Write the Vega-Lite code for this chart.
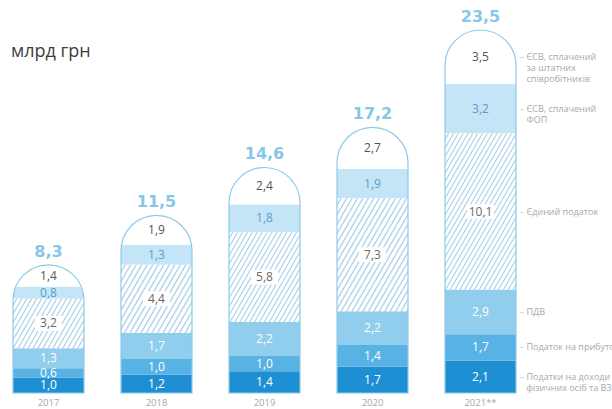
{
"$schema": "https://vega.github.io/schema/vega-lite/v6.json",
"width": 612,
"height": 363,
"autosize": {"type": "none"},
"padding": {"left": 0, "top": 30, "right": 0, "bottom": 16},
"background": "#ffffff",
"title": {"text": "млрд грн", "anchor": "start", "frame": "group", "dx": 11, "dy": 66, "offset": 0, "baseline": "alphabetic", "fontSize": 18, "fontWeight": "normal", "color": "#3d3d3d", "font": "Open Sans"},
"data": {"values": [
{"year": "2017", "ord": 1, "cat": "Податки на доходи\nфізичних осіб та ВЗ", "value": 1.0},
{"year": "2017", "ord": 2, "cat": "Податок на прибуток", "value": 0.6},
{"year": "2017", "ord": 3, "cat": "ПДВ", "value": 1.3},
{"year": "2017", "ord": 4, "cat": "Єдиний податок", "value": 3.2},
{"year": "2017", "ord": 5, "cat": "ЄСВ, сплачений\nФОП", "value": 0.8},
{"year": "2017", "ord": 6, "cat": "ЄСВ, сплачений\nза штатних\nспівробітників", "value": 1.4},
{"year": "2018", "ord": 1, "cat": "Податки на доходи\nфізичних осіб та ВЗ", "value": 1.2},
{"year": "2018", "ord": 2, "cat": "Податок на прибуток", "value": 1.0},
{"year": "2018", "ord": 3, "cat": "ПДВ", "value": 1.7},
{"year": "2018", "ord": 4, "cat": "Єдиний податок", "value": 4.4},
{"year": "2018", "ord": 5, "cat": "ЄСВ, сплачений\nФОП", "value": 1.3},
{"year": "2018", "ord": 6, "cat": "ЄСВ, сплачений\nза штатних\nспівробітників", "value": 1.9},
{"year": "2019", "ord": 1, "cat": "Податки на доходи\nфізичних осіб та ВЗ", "value": 1.4},
{"year": "2019", "ord": 2, "cat": "Податок на прибуток", "value": 1.0},
{"year": "2019", "ord": 3, "cat": "ПДВ", "value": 2.2},
{"year": "2019", "ord": 4, "cat": "Єдиний податок", "value": 5.8},
{"year": "2019", "ord": 5, "cat": "ЄСВ, сплачений\nФОП", "value": 1.8},
{"year": "2019", "ord": 6, "cat": "ЄСВ, сплачений\nза штатних\nспівробітників", "value": 2.4},
{"year": "2020", "ord": 1, "cat": "Податки на доходи\nфізичних осіб та ВЗ", "value": 1.7},
{"year": "2020", "ord": 2, "cat": "Податок на прибуток", "value": 1.4},
{"year": "2020", "ord": 3, "cat": "ПДВ", "value": 2.2},
{"year": "2020", "ord": 4, "cat": "Єдиний податок", "value": 7.3},
{"year": "2020", "ord": 5, "cat": "ЄСВ, сплачений\nФОП", "value": 1.9},
{"year": "2020", "ord": 6, "cat": "ЄСВ, сплачений\nза штатних\nспівробітників", "value": 2.7},
{"year": "2021**", "ord": 1, "cat": "Податки на доходи\nфізичних осіб та ВЗ", "value": 2.1},
{"year": "2021**", "ord": 2, "cat": "Податок на прибуток", "value": 1.7},
{"year": "2021**", "ord": 3, "cat": "ПДВ", "value": 2.9},
{"year": "2021**", "ord": 4, "cat": "Єдиний податок", "value": 10.1},
{"year": "2021**", "ord": 5, "cat": "ЄСВ, сплачений\nФОП", "value": 3.2},
{"year": "2021**", "ord": 6, "cat": "ЄСВ, сплачений\nза штатних\nспівробітників", "value": 3.5}
]},
"transform": [{"stack": "value", "groupby": ["year"], "sort": [{"field": "ord", "order": "ascending"}], "as": ["v0", "v1"]}],
"encoding": {
"x": {"field": "year", "type": "nominal", "scale": {"range": [-5.5, 534.5], "paddingInner": 0, "paddingOuter": 0},
"axis": {"title": null, "domain": false, "ticks": false, "labelAngle": 0, "labelColor": "#a8a8a8", "labelFontSize": 9.5, "labelFont": "Open Sans", "labelPadding": 4}}
},
"layer": [
{"transform": [{"filter": "datum.ord != 4"}],
"mark": {"type": "bar", "width": 71},
"encoding": {
"y": {"field": "v1", "type": "quantitative", "scale": {"domain": [0, 23.5], "nice": false}, "axis": null},
"y2": {"field": "v0"},
"color": {"field": "ord", "type": "nominal", "scale": {"domain": [1, 2, 3, 5, 6], "range": ["#1f8fd4", "#58b2e3", "#91cdec", "#c3e5f6", "#ffffff"]}, "legend": null}
}},
{"transform": [{"filter": "datum.ord == 4 && datum.year == '2017'"}],
"mark": {"type": "bar", "width": 71, "fill": {"gradient": "linear", "x1": 0, "y1": 0, "x2": 1.207, "y2": 0.485, "stops": [
{"offset":0,"color":"#fff"},{"offset":0.025,"color":"#fff"},{"offset":0.0375,"color":"#a3cde4"},
{"offset":0.05,"color":"#fff"},{"offset":0.075,"color":"#fff"},{"offset":0.0875,"color":"#a3cde4"},
{"offset":0.1,"color":"#fff"},{"offset":0.125,"color":"#fff"},{"offset":0.1375,"color":"#a3cde4"},
{"offset":0.15,"color":"#fff"},{"offset":0.175,"color":"#fff"},{"offset":0.1875,"color":"#a3cde4"},
{"offset":0.2,"color":"#fff"},{"offset":0.225,"color":"#fff"},{"offset":0.2375,"color":"#a3cde4"},
{"offset":0.25,"color":"#fff"},{"offset":0.275,"color":"#fff"},{"offset":0.2875,"color":"#a3cde4"},
{"offset":0.3,"color":"#fff"},{"offset":0.325,"color":"#fff"},{"offset":0.3375,"color":"#a3cde4"},
{"offset":0.35,"color":"#fff"},{"offset":0.375,"color":"#fff"},{"offset":0.3875,"color":"#a3cde4"},
{"offset":0.4,"color":"#fff"},{"offset":0.425,"color":"#fff"},{"offset":0.4375,"color":"#a3cde4"},
{"offset":0.45,"color":"#fff"},{"offset":0.475,"color":"#fff"},{"offset":0.4875,"color":"#a3cde4"},
{"offset":0.5,"color":"#fff"},{"offset":0.525,"color":"#fff"},{"offset":0.5375,"color":"#a3cde4"},
{"offset":0.55,"color":"#fff"},{"offset":0.575,"color":"#fff"},{"offset":0.5875,"color":"#a3cde4"},
{"offset":0.6,"color":"#fff"},{"offset":0.625,"color":"#fff"},{"offset":0.6375,"color":"#a3cde4"},
{"offset":0.65,"color":"#fff"},{"offset":0.675,"color":"#fff"},{"offset":0.6875,"color":"#a3cde4"},
{"offset":0.7,"color":"#fff"},{"offset":0.725,"color":"#fff"},{"offset":0.7375,"color":"#a3cde4"},
{"offset":0.75,"color":"#fff"},{"offset":0.775,"color":"#fff"},{"offset":0.7875,"color":"#a3cde4"},
{"offset":0.8,"color":"#fff"},{"offset":0.825,"color":"#fff"},{"offset":0.8375,"color":"#a3cde4"},
{"offset":0.85,"color":"#fff"},{"offset":0.875,"color":"#fff"},{"offset":0.8875,"color":"#a3cde4"},
{"offset":0.9,"color":"#fff"},{"offset":0.925,"color":"#fff"},{"offset":0.9375,"color":"#a3cde4"},
{"offset":0.95,"color":"#fff"},{"offset":0.975,"color":"#fff"},{"offset":0.9875,"color":"#a3cde4"},
{"offset":1,"color":"#fff"}]}},
"encoding": {
"y": {"field": "v1", "type": "quantitative", "scale": {"domain": [0, 23.5], "nice": false}, "axis": null},
"y2": {"field": "v0"}
}},
{"transform": [{"filter": "datum.ord == 4 && datum.year == '2018'"}],
"mark": {"type": "bar", "width": 71, "fill": {"gradient": "linear", "x1": 0, "y1": 0, "x2": 1.19, "y2": 0.658, "stops": [
{"offset":0,"color":"#fff"},{"offset":0.025,"color":"#fff"},{"offset":0.0375,"color":"#a3cde4"},
{"offset":0.05,"color":"#fff"},{"offset":0.075,"color":"#fff"},{"offset":0.0875,"color":"#a3cde4"},
{"offset":0.1,"color":"#fff"},{"offset":0.125,"color":"#fff"},{"offset":0.1375,"color":"#a3cde4"},
{"offset":0.15,"color":"#fff"},{"offset":0.175,"color":"#fff"},{"offset":0.1875,"color":"#a3cde4"},
{"offset":0.2,"color":"#fff"},{"offset":0.225,"color":"#fff"},{"offset":0.2375,"color":"#a3cde4"},
{"offset":0.25,"color":"#fff"},{"offset":0.275,"color":"#fff"},{"offset":0.2875,"color":"#a3cde4"},
{"offset":0.3,"color":"#fff"},{"offset":0.325,"color":"#fff"},{"offset":0.3375,"color":"#a3cde4"},
{"offset":0.35,"color":"#fff"},{"offset":0.375,"color":"#fff"},{"offset":0.3875,"color":"#a3cde4"},
{"offset":0.4,"color":"#fff"},{"offset":0.425,"color":"#fff"},{"offset":0.4375,"color":"#a3cde4"},
{"offset":0.45,"color":"#fff"},{"offset":0.475,"color":"#fff"},{"offset":0.4875,"color":"#a3cde4"},
{"offset":0.5,"color":"#fff"},{"offset":0.525,"color":"#fff"},{"offset":0.5375,"color":"#a3cde4"},
{"offset":0.55,"color":"#fff"},{"offset":0.575,"color":"#fff"},{"offset":0.5875,"color":"#a3cde4"},
{"offset":0.6,"color":"#fff"},{"offset":0.625,"color":"#fff"},{"offset":0.6375,"color":"#a3cde4"},
{"offset":0.65,"color":"#fff"},{"offset":0.675,"color":"#fff"},{"offset":0.6875,"color":"#a3cde4"},
{"offset":0.7,"color":"#fff"},{"offset":0.725,"color":"#fff"},{"offset":0.7375,"color":"#a3cde4"},
{"offset":0.75,"color":"#fff"},{"offset":0.775,"color":"#fff"},{"offset":0.7875,"color":"#a3cde4"},
{"offset":0.8,"color":"#fff"},{"offset":0.825,"color":"#fff"},{"offset":0.8375,"color":"#a3cde4"},
{"offset":0.85,"color":"#fff"},{"offset":0.875,"color":"#fff"},{"offset":0.8875,"color":"#a3cde4"},
{"offset":0.9,"color":"#fff"},{"offset":0.925,"color":"#fff"},{"offset":0.9375,"color":"#a3cde4"},
{"offset":0.95,"color":"#fff"},{"offset":0.975,"color":"#fff"},{"offset":0.9875,"color":"#a3cde4"},
{"offset":1,"color":"#fff"}]}},
"encoding": {
"y": {"field": "v1", "type": "quantitative", "scale": {"domain": [0, 23.5], "nice": false}, "axis": null},
"y2": {"field": "v0"}
}},
{"transform": [{"filter": "datum.ord == 4 && datum.year == '2019'"}],
"mark": {"type": "bar", "width": 71, "fill": {"gradient": "linear", "x1": 0, "y1": 0, "x2": 1.129, "y2": 0.823, "stops": [
{"offset":0,"color":"#fff"},{"offset":0.02,"color":"#fff"},{"offset":0.03,"color":"#a3cde4"},
{"offset":0.04,"color":"#fff"},{"offset":0.06,"color":"#fff"},{"offset":0.07,"color":"#a3cde4"},
{"offset":0.08,"color":"#fff"},{"offset":0.1,"color":"#fff"},{"offset":0.11,"color":"#a3cde4"},
{"offset":0.12,"color":"#fff"},{"offset":0.14,"color":"#fff"},{"offset":0.15,"color":"#a3cde4"},
{"offset":0.16,"color":"#fff"},{"offset":0.18,"color":"#fff"},{"offset":0.19,"color":"#a3cde4"},
{"offset":0.2,"color":"#fff"},{"offset":0.22,"color":"#fff"},{"offset":0.23,"color":"#a3cde4"},
{"offset":0.24,"color":"#fff"},{"offset":0.26,"color":"#fff"},{"offset":0.27,"color":"#a3cde4"},
{"offset":0.28,"color":"#fff"},{"offset":0.3,"color":"#fff"},{"offset":0.31,"color":"#a3cde4"},
{"offset":0.32,"color":"#fff"},{"offset":0.34,"color":"#fff"},{"offset":0.35,"color":"#a3cde4"},
{"offset":0.36,"color":"#fff"},{"offset":0.38,"color":"#fff"},{"offset":0.39,"color":"#a3cde4"},
{"offset":0.4,"color":"#fff"},{"offset":0.42,"color":"#fff"},{"offset":0.43,"color":"#a3cde4"},
{"offset":0.44,"color":"#fff"},{"offset":0.46,"color":"#fff"},{"offset":0.47,"color":"#a3cde4"},
{"offset":0.48,"color":"#fff"},{"offset":0.5,"color":"#fff"},{"offset":0.51,"color":"#a3cde4"},
{"offset":0.52,"color":"#fff"},{"offset":0.54,"color":"#fff"},{"offset":0.55,"color":"#a3cde4"},
{"offset":0.56,"color":"#fff"},{"offset":0.58,"color":"#fff"},{"offset":0.59,"color":"#a3cde4"},
{"offset":0.6,"color":"#fff"},{"offset":0.62,"color":"#fff"},{"offset":0.63,"color":"#a3cde4"},
{"offset":0.64,"color":"#fff"},{"offset":0.66,"color":"#fff"},{"offset":0.67,"color":"#a3cde4"},
{"offset":0.68,"color":"#fff"},{"offset":0.7,"color":"#fff"},{"offset":0.71,"color":"#a3cde4"},
{"offset":0.72,"color":"#fff"},{"offset":0.74,"color":"#fff"},{"offset":0.75,"color":"#a3cde4"},
{"offset":0.76,"color":"#fff"},{"offset":0.78,"color":"#fff"},{"offset":0.79,"color":"#a3cde4"},
{"offset":0.8,"color":"#fff"},{"offset":0.82,"color":"#fff"},{"offset":0.83,"color":"#a3cde4"},
{"offset":0.84,"color":"#fff"},{"offset":0.86,"color":"#fff"},{"offset":0.87,"color":"#a3cde4"},
{"offset":0.88,"color":"#fff"},{"offset":0.9,"color":"#fff"},{"offset":0.91,"color":"#a3cde4"},
{"offset":0.92,"color":"#fff"},{"offset":0.94,"color":"#fff"},{"offset":0.95,"color":"#a3cde4"},
{"offset":0.96,"color":"#fff"},{"offset":0.98,"color":"#fff"},{"offset":0.99,"color":"#a3cde4"},
{"offset":1,"color":"#fff"}]}},
"encoding": {
"y": {"field": "v1", "type": "quantitative", "scale": {"domain": [0, 23.5], "nice": false}, "axis": null},
"y2": {"field": "v0"}
}},
{"transform": [{"filter": "datum.ord == 4 && datum.year == '2020'"}],
"mark": {"type": "bar", "width": 71, "fill": {"gradient": "linear", "x1": 0, "y1": 0, "x2": 1.041, "y2": 0.955, "stops": [
{"offset":0,"color":"#fff"},{"offset":0.02,"color":"#fff"},{"offset":0.03,"color":"#a3cde4"},
{"offset":0.04,"color":"#fff"},{"offset":0.06,"color":"#fff"},{"offset":0.07,"color":"#a3cde4"},
{"offset":0.08,"color":"#fff"},{"offset":0.1,"color":"#fff"},{"offset":0.11,"color":"#a3cde4"},
{"offset":0.12,"color":"#fff"},{"offset":0.14,"color":"#fff"},{"offset":0.15,"color":"#a3cde4"},
{"offset":0.16,"color":"#fff"},{"offset":0.18,"color":"#fff"},{"offset":0.19,"color":"#a3cde4"},
{"offset":0.2,"color":"#fff"},{"offset":0.22,"color":"#fff"},{"offset":0.23,"color":"#a3cde4"},
{"offset":0.24,"color":"#fff"},{"offset":0.26,"color":"#fff"},{"offset":0.27,"color":"#a3cde4"},
{"offset":0.28,"color":"#fff"},{"offset":0.3,"color":"#fff"},{"offset":0.31,"color":"#a3cde4"},
{"offset":0.32,"color":"#fff"},{"offset":0.34,"color":"#fff"},{"offset":0.35,"color":"#a3cde4"},
{"offset":0.36,"color":"#fff"},{"offset":0.38,"color":"#fff"},{"offset":0.39,"color":"#a3cde4"},
{"offset":0.4,"color":"#fff"},{"offset":0.42,"color":"#fff"},{"offset":0.43,"color":"#a3cde4"},
{"offset":0.44,"color":"#fff"},{"offset":0.46,"color":"#fff"},{"offset":0.47,"color":"#a3cde4"},
{"offset":0.48,"color":"#fff"},{"offset":0.5,"color":"#fff"},{"offset":0.51,"color":"#a3cde4"},
{"offset":0.52,"color":"#fff"},{"offset":0.54,"color":"#fff"},{"offset":0.55,"color":"#a3cde4"},
{"offset":0.56,"color":"#fff"},{"offset":0.58,"color":"#fff"},{"offset":0.59,"color":"#a3cde4"},
{"offset":0.6,"color":"#fff"},{"offset":0.62,"color":"#fff"},{"offset":0.63,"color":"#a3cde4"},
{"offset":0.64,"color":"#fff"},{"offset":0.66,"color":"#fff"},{"offset":0.67,"color":"#a3cde4"},
{"offset":0.68,"color":"#fff"},{"offset":0.7,"color":"#fff"},{"offset":0.71,"color":"#a3cde4"},
{"offset":0.72,"color":"#fff"},{"offset":0.74,"color":"#fff"},{"offset":0.75,"color":"#a3cde4"},
{"offset":0.76,"color":"#fff"},{"offset":0.78,"color":"#fff"},{"offset":0.79,"color":"#a3cde4"},
{"offset":0.8,"color":"#fff"},{"offset":0.82,"color":"#fff"},{"offset":0.83,"color":"#a3cde4"},
{"offset":0.84,"color":"#fff"},{"offset":0.86,"color":"#fff"},{"offset":0.87,"color":"#a3cde4"},
{"offset":0.88,"color":"#fff"},{"offset":0.9,"color":"#fff"},{"offset":0.91,"color":"#a3cde4"},
{"offset":0.92,"color":"#fff"},{"offset":0.94,"color":"#fff"},{"offset":0.95,"color":"#a3cde4"},
{"offset":0.96,"color":"#fff"},{"offset":0.98,"color":"#fff"},{"offset":0.99,"color":"#a3cde4"},
{"offset":1,"color":"#fff"}]}},
"encoding": {
"y": {"field": "v1", "type": "quantitative", "scale": {"domain": [0, 23.5], "nice": false}, "axis": null},
"y2": {"field": "v0"}
}},
{"transform": [{"filter": "datum.ord == 4 && datum.year == '2021**'"}],
"mark": {"type": "bar", "width": 71, "fill": {"gradient": "linear", "x1": 0, "y1": 0, "x2": 0.869, "y2": 1.103, "stops": [
{"offset":0,"color":"#fff"},{"offset":0.015,"color":"#fff"},{"offset":0.0225,"color":"#a3cde4"},
{"offset":0.03,"color":"#fff"},{"offset":0.045,"color":"#fff"},{"offset":0.0525,"color":"#a3cde4"},
{"offset":0.06,"color":"#fff"},{"offset":0.075,"color":"#fff"},{"offset":0.0825,"color":"#a3cde4"},
{"offset":0.09,"color":"#fff"},{"offset":0.105,"color":"#fff"},{"offset":0.1125,"color":"#a3cde4"},
{"offset":0.12,"color":"#fff"},{"offset":0.135,"color":"#fff"},{"offset":0.1425,"color":"#a3cde4"},
{"offset":0.15,"color":"#fff"},{"offset":0.165,"color":"#fff"},{"offset":0.1725,"color":"#a3cde4"},
{"offset":0.18,"color":"#fff"},{"offset":0.195,"color":"#fff"},{"offset":0.2025,"color":"#a3cde4"},
{"offset":0.21,"color":"#fff"},{"offset":0.225,"color":"#fff"},{"offset":0.2325,"color":"#a3cde4"},
{"offset":0.24,"color":"#fff"},{"offset":0.255,"color":"#fff"},{"offset":0.2625,"color":"#a3cde4"},
{"offset":0.27,"color":"#fff"},{"offset":0.285,"color":"#fff"},{"offset":0.2925,"color":"#a3cde4"},
{"offset":0.3,"color":"#fff"},{"offset":0.315,"color":"#fff"},{"offset":0.3225,"color":"#a3cde4"},
{"offset":0.33,"color":"#fff"},{"offset":0.345,"color":"#fff"},{"offset":0.3525,"color":"#a3cde4"},
{"offset":0.36,"color":"#fff"},{"offset":0.375,"color":"#fff"},{"offset":0.3825,"color":"#a3cde4"},
{"offset":0.39,"color":"#fff"},{"offset":0.405,"color":"#fff"},{"offset":0.4125,"color":"#a3cde4"},
{"offset":0.42,"color":"#fff"},{"offset":0.435,"color":"#fff"},{"offset":0.4425,"color":"#a3cde4"},
{"offset":0.45,"color":"#fff"},{"offset":0.465,"color":"#fff"},{"offset":0.4725,"color":"#a3cde4"},
{"offset":0.48,"color":"#fff"},{"offset":0.495,"color":"#fff"},{"offset":0.5025,"color":"#a3cde4"},
{"offset":0.51,"color":"#fff"},{"offset":0.525,"color":"#fff"},{"offset":0.5325,"color":"#a3cde4"},
{"offset":0.54,"color":"#fff"},{"offset":0.555,"color":"#fff"},{"offset":0.5625,"color":"#a3cde4"},
{"offset":0.57,"color":"#fff"},{"offset":0.585,"color":"#fff"},{"offset":0.5925,"color":"#a3cde4"},
{"offset":0.6,"color":"#fff"},{"offset":0.615,"color":"#fff"},{"offset":0.6225,"color":"#a3cde4"},
{"offset":0.63,"color":"#fff"},{"offset":0.645,"color":"#fff"},{"offset":0.6525,"color":"#a3cde4"},
{"offset":0.66,"color":"#fff"},{"offset":0.675,"color":"#fff"},{"offset":0.6825,"color":"#a3cde4"},
{"offset":0.69,"color":"#fff"},{"offset":0.705,"color":"#fff"},{"offset":0.7125,"color":"#a3cde4"},
{"offset":0.72,"color":"#fff"},{"offset":0.735,"color":"#fff"},{"offset":0.7425,"color":"#a3cde4"},
{"offset":0.75,"color":"#fff"},{"offset":0.765,"color":"#fff"},{"offset":0.7725,"color":"#a3cde4"},
{"offset":0.78,"color":"#fff"},{"offset":0.795,"color":"#fff"},{"offset":0.8025,"color":"#a3cde4"},
{"offset":0.81,"color":"#fff"},{"offset":0.825,"color":"#fff"},{"offset":0.8325,"color":"#a3cde4"},
{"offset":0.84,"color":"#fff"},{"offset":0.855,"color":"#fff"},{"offset":0.8625,"color":"#a3cde4"},
{"offset":0.87,"color":"#fff"},{"offset":0.885,"color":"#fff"},{"offset":0.8925,"color":"#a3cde4"},
{"offset":0.9,"color":"#fff"},{"offset":0.915,"color":"#fff"},{"offset":0.9225,"color":"#a3cde4"},
{"offset":0.93,"color":"#fff"},{"offset":0.945,"color":"#fff"},{"offset":0.9525,"color":"#a3cde4"},
{"offset":0.96,"color":"#fff"},{"offset":0.975,"color":"#fff"},{"offset":0.9825,"color":"#a3cde4"},
{"offset":0.99,"color":"#fff"},{"offset":1,"color":"#fff"}]}},
"encoding": {
"y": {"field": "v1", "type": "quantitative", "scale": {"domain": [0, 23.5], "nice": false}, "axis": null},
"y2": {"field": "v0"}
}},
{"transform": [{"aggregate": [{"op": "sum", "field": "value", "as": "total"}], "groupby": ["year"]}],
"mark": {"type": "point", "shape": "M -1.07 0 L -1.07 -1.03 L 1.07 -1.03 L 1.07 0 L 1 0 A 1 1 0 0 0 -1 0 Z", "size": 5041, "filled": true, "fill": "#ffffff", "opacity": 1, "strokeWidth": 0, "yOffset": 35.5},
"encoding": {
"y": {"field": "total", "type": "quantitative", "scale": {"domain": [0, 23.5], "nice": false}, "axis": null}
}},
{"transform": [{"aggregate": [{"op": "sum", "field": "value", "as": "total"}], "groupby": ["year"]}],
"mark": {"type": "bar", "width": 71, "fill": "#ffffff", "fillOpacity": 0, "stroke": "#8dcaea", "strokeWidth": 1.2, "cornerRadiusTopLeft": 35.5, "cornerRadiusTopRight": 35.5},
"encoding": {
"y": {"field": "total", "type": "quantitative", "scale": {"domain": [0, 23.5], "nice": false}, "axis": null},
"y2": {"datum": 0}
}},
{"transform": [{"fold": ["v0", "v1"], "as": ["k", "edge"]}, {"aggregate": [{"op": "mean", "field": "edge", "as": "mid"}, {"op": "max", "field": "value", "as": "val"}], "groupby": ["year", "ord", "cat"]}, {"filter": "datum.ord == 4"}],
"mark": {"type": "point", "shape": "M -1 -0.55 L 1 -0.55 L 1 0.55 L -1 0.55 Z", "size": 729, "filled": true, "fill": "#ffffff", "opacity": 1, "strokeWidth": 0},
"encoding": {
"y": {"field": "mid", "type": "quantitative", "scale": {"domain": [0, 23.5], "nice": false}, "axis": null}
}},
{"transform": [{"fold": ["v0", "v1"], "as": ["k", "edge"]}, {"aggregate": [{"op": "mean", "field": "edge", "as": "mid"}, {"op": "max", "field": "value", "as": "val"}], "groupby": ["year", "ord", "cat"]}],
"mark": {"type": "text", "font": "Open Sans", "fontSize": 12, "align": "center", "baseline": "middle"},
"encoding": {
"y": {"field": "mid", "type": "quantitative", "scale": {"domain": [0, 23.5], "nice": false}, "axis": null},
"text": {"field": "val", "type": "quantitative", "format": ".1f"},
"color": {"condition": [{"test": "datum.ord <= 3", "value": "#ffffff"}, {"test": "datum.ord == 4", "value": "#6a6a6a"}, {"test": "datum.ord == 5", "value": "#5b9dcc"}], "value": "#555555"}
}},
{"transform": [{"aggregate": [{"op": "sum", "field": "value", "as": "total"}], "groupby": ["year"]}],
"mark": {"type": "text", "font": "DejaVu Sans", "fontWeight": "bold", "fontSize": 16, "align": "center", "baseline": "alphabetic", "dy": -8, "color": "#86c7e8"},
"encoding": {
"y": {"field": "total", "type": "quantitative", "scale": {"domain": [0, 23.5], "nice": false}, "axis": null},
"text": {"field": "total", "type": "quantitative", "format": ".1f"}
}},
{"transform": [{"filter": "datum.year == '2021**'"}, {"fold": ["v0", "v1"], "as": ["k", "edge"]}, {"aggregate": [{"op": "mean", "field": "edge", "as": "mid"}], "groupby": ["year", "ord", "cat"]}],
"mark": {"type": "text", "font": "Open Sans", "fontSize": 9, "align": "left", "baseline": "middle", "dx": 46, "lineBreak": "\n", "lineHeight": 11, "color": "#a9a9a9"},
"encoding": {
"y": {"field": "mid", "type": "quantitative", "scale": {"domain": [0, 23.5], "nice": false}, "axis": null},
"text": {"field": "cat"}
}},
{"transform": [{"filter": "datum.year == '2021**'"}, {"fold": ["v0", "v1"], "as": ["k", "edge"]}, {"aggregate": [{"op": "mean", "field": "edge", "as": "mid"}], "groupby": ["year", "ord", "cat"]}],
"mark": {"type": "text", "text": "–", "font": "Open Sans", "fontSize": 8, "align": "center", "baseline": "middle", "dx": 41.5, "color": "#b5b5b5"},
"encoding": {
"y": {"field": "mid", "type": "quantitative", "scale": {"domain": [0, 23.5], "nice": false}, "axis": null}
}}
],
"config": {
"view": {"stroke": null},
"locale": {"number": {"decimal": ",", "thousands": " ", "grouping": [3], "currency": ["", " грн"]}}
}
}
